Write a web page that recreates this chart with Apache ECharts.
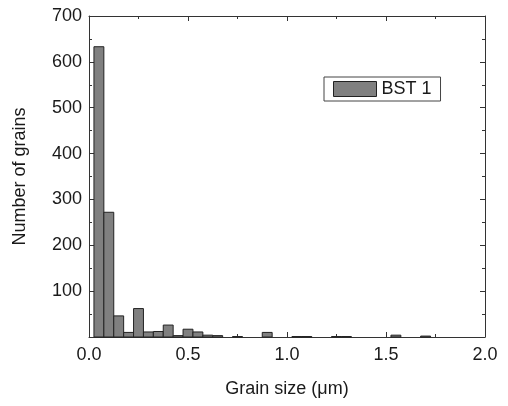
<!DOCTYPE html>
<html>
<head>
<meta charset="utf-8">
<script src="https://cdn.jsdelivr.net/npm/echarts@6/dist/echarts.min.js"></script>
<style>
  html, body { margin: 0; padding: 0; background: #fff; }
  #chart { width: 508px; height: 406px; }
</style>
</head>
<body>
<div id="chart"></div>
<script>
// bin centres (µm), bin width 0.05
const binCenters = [
  0.05, 0.10, 0.15, 0.20, 0.25, 0.30, 0.35, 0.40, 0.45, 0.50,
  0.55, 0.60, 0.65, 0.70, 0.75, 0.80, 0.85, 0.90, 0.95, 1.00,
  1.05, 1.10, 1.15, 1.20, 1.25, 1.30, 1.35, 1.40, 1.45, 1.50,
  1.55, 1.60, 1.65, 1.70
];
const grainCounts = [
  633, 272, 46, 10, 62, 11, 12, 26, 3, 17,
  11, 4, 3, 0, 1, 0, 0, 10, 0, 0,
  1, 1, 0, 0, 1, 1, 0, 0, 0, 0,
  4, 0, 0, 2
];
const binWidth = 0.05;
const seriesName = "BST 1";

const textColor = "#1a1a1a";
const axisColor = "#333";
const font = "Liberation Sans, Arial, sans-serif";
const fontSize = 18;

const chart = echarts.init(document.getElementById("chart"), null, { renderer: "canvas" });

const boxAxis = {
  min: 0,
  axisLine: { show: true, onZero: false, lineStyle: { color: axisColor, width: 1 } },
  axisTick: { show: true, inside: true, length: 5, lineStyle: { color: axisColor } },
  minorTick: { show: true, splitNumber: 2, length: 3, lineStyle: { color: axisColor } },
  splitLine: { show: false },
  minorSplitLine: { show: false },
};

chart.setOption({
  animation: false,
  backgroundColor: "#fff",
  textStyle: { fontFamily: font },
  grid: { left: 89, right: 23, top: 16, bottom: 69 },
  legend: {
    left: 324,
    top: 77,
    padding: [3, 9, 3, 9],
    borderColor: "#444",
    borderWidth: 1,
    itemWidth: 43,
    itemHeight: 15,
    itemGap: 4,
    textStyle: { fontSize: fontSize, color: textColor, fontFamily: font },
    data: [{
      name: seriesName,
      icon: "rect",
      itemStyle: { color: "#808080", borderColor: "#222", borderWidth: 1 },
    }],
  },
  xAxis: [
    Object.assign({}, boxAxis, {
      type: "value",
      position: "bottom",
      max: 2,
      interval: 0.5,
      name: "Grain size (\u03bcm)",
      nameLocation: "middle",
      nameGap: 43,
      nameTextStyle: { fontSize: fontSize, color: textColor, fontFamily: font },
      axisLabel: {
        show: true,
        fontSize: fontSize,
        color: textColor,
        margin: 9,
        formatter: (v) => v.toFixed(1),
      },
    }),
    Object.assign({}, boxAxis, {
      type: "value",
      position: "top",
      max: 2,
      interval: 0.5,
      axisLabel: { show: false },
    }),
  ],
  yAxis: [
    Object.assign({}, boxAxis, {
      type: "value",
      position: "left",
      max: 700,
      interval: 100,
      name: "Number of grains",
      nameLocation: "middle",
      nameGap: 60,
      nameTextStyle: { fontSize: fontSize, color: textColor, fontFamily: font },
      axisLabel: {
        show: true,
        fontSize: fontSize,
        color: textColor,
        margin: 7,
        formatter: (v) => (v === 0 ? "" : String(v)),
      },
    }),
    Object.assign({}, boxAxis, {
      type: "value",
      position: "right",
      max: 700,
      interval: 100,
      axisLabel: { show: false },
    }),
  ],
  series: [{
    name: seriesName,
    type: "custom",
    xAxisIndex: 0,
    yAxisIndex: 0,
    itemStyle: { color: "#808080", borderColor: "#222", borderWidth: 1 },
    data: binCenters.map((x, i) => [x, grainCounts[i]]),
    renderItem: (params, api) => {
      const x = api.value(0);
      const y = api.value(1);
      if (y <= 0) return null;
      const topLeft = api.coord([x - binWidth / 2, y]);
      const bottomRight = api.coord([x + binWidth / 2, 0]);
      return {
        type: "rect",
        shape: {
          x: topLeft[0],
          y: topLeft[1],
          width: bottomRight[0] - topLeft[0],
          height: bottomRight[1] - topLeft[1],
        },
        style: { fill: "#808080", stroke: "#222", lineWidth: 1 },
      };
    },
  }],
});
</script>
</body>
</html>
